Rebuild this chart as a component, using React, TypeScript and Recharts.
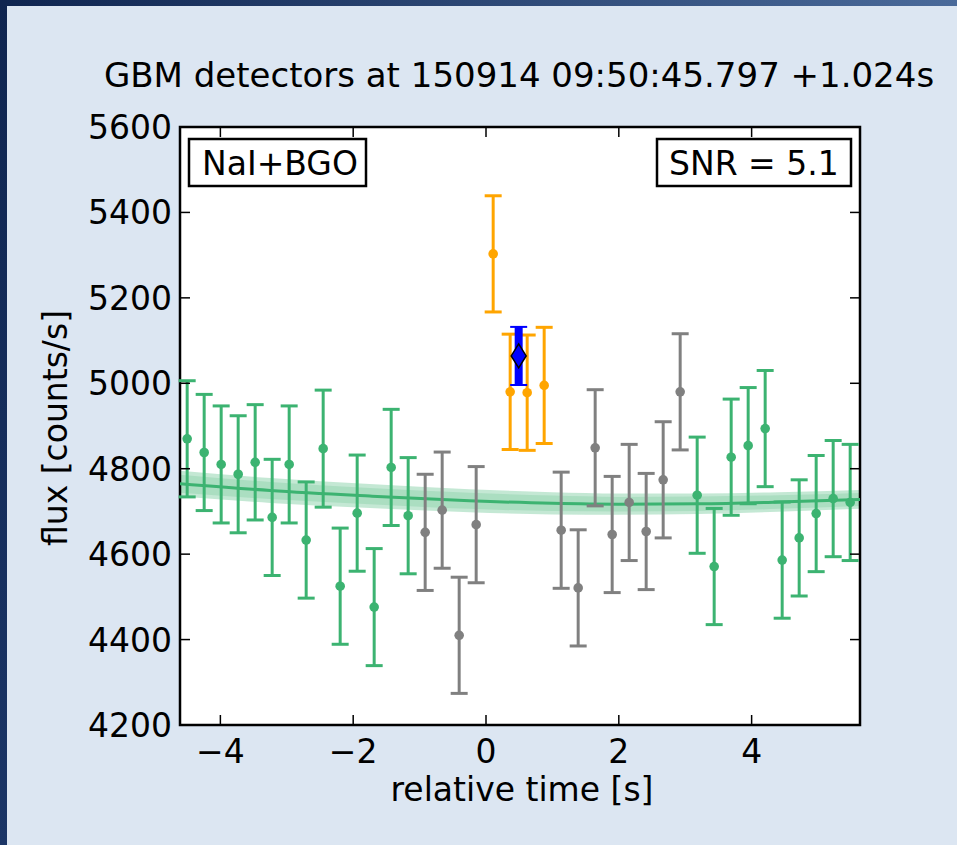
import {
  ComposedChart,
  XAxis,
  YAxis,
  Scatter,
  ErrorBar,
  Line,
  Area,
  CartesianGrid,
  ReferenceArea,
} from "recharts";

// 0.256 s bins, relative to trigger
const times = [
  -4.5, -4.244, -3.988, -3.732, -3.476, -3.22, -2.964, -2.708, -2.452, -2.196,
  -1.94, -1.684, -1.428, -1.172, -0.916, -0.66, -0.404, -0.148, 0.108, 0.364,
  0.62, 0.876, 1.132, 1.388, 1.644, 1.9, 2.156, 2.412, 2.668, 2.924,
  3.18, 3.436, 3.692, 3.948, 4.204, 4.46, 4.716, 4.972, 5.228, 5.484,
];
const flux = [
  4870, 4838, 4810, 4787, 4815, 4686, 4810, 4633, 4847, 4525,
  4696, 4476, 4803, 4690, 4651, 4703, 4410, 4669, 5303, 4980,
  4978, 4995, 4656, 4521, 4849, 4646, 4721, 4653, 4774, 4980,
  4738, 4571, 4827, 4854, 4894, 4586, 4638, 4695, 4730, 4721,
];
const fluxErr = [
  136, 136, 137, 137, 135, 136, 137, 136, 137, 136,
  136, 137, 136, 136, 136, 136, 136, 136, 136, 135,
  135, 136, 136, 136, 136, 136, 136, 136, 136, 136,
  136, 136, 136, 136, 136, 136, 136, 136, 136, 136,
];
// bg = background fit bins, off = excluded, src = source window
const binKind = [
  "bg", "bg", "bg", "bg", "bg", "bg", "bg", "bg", "bg", "bg",
  "bg", "bg", "bg", "bg", "off", "off", "off", "off", "src", "src",
  "src", "src", "off", "off", "off", "off", "off", "off", "off", "off",
  "bg", "bg", "bg", "bg", "bg", "bg", "bg", "bg", "bg", "bg",
];

const stackTime = [0.492];
const stackFlux = [5064];
const stackErr = [68];

const fitTimes = [-4.608, -3.25, -1.75, -0.25, 1.0, 2.0, 3.2, 4.4, 5.632];
const fitFlux = [4765, 4749, 4736, 4725, 4719, 4717, 4718, 4722, 4728];
const fitOuter = [30, 29, 28, 27, 26, 25, 24, 23, 22];
const fitInner = [21, 20, 19, 19, 18, 17, 17, 16, 15];

const xTicks = [-4, -2, 0, 2, 4];
const yTicks = [4200, 4400, 4600, 4800, 5000, 5200, 5400, 5600];

const GREEN = "#3cb371";
const GRAY = "#808080";
const ORANGE = "#ffa500";
const BLUE = "#0000ff";
const FONT = "DejaVu Sans";

const W = 957;
const H = 845;
const MARGIN = { top: 127, right: 97, bottom: 60, left: 80 };
const Y_AXIS_W = 100;
const X_AXIS_H = 60;
const PLOT_W = W - MARGIN.left - Y_AXIS_W - MARGIN.right;
const PLOT_H = H - MARGIN.top - MARGIN.bottom - X_AXIS_H;

const rows = times.map((t, i) => ({ t, v: flux[i], e: fluxErr[i], kind: binKind[i] }));
const bgRows = rows.filter((r) => r.kind === "bg");
const offRows = rows.filter((r) => r.kind === "off");
const srcRows = rows.filter((r) => r.kind === "src");
const stackRows = stackTime.map((t, i) => ({ t, v: stackFlux[i], e: stackErr[i] }));
const fitRows = fitTimes.map((t, i) => ({
  t,
  fit: fitFlux[i],
  outer: [fitFlux[i] - fitOuter[i], fitFlux[i] + fitOuter[i]],
  inner: [fitFlux[i] - fitInner[i], fitFlux[i] + fitInner[i]],
}));

function XTick({ x, y, payload }: any) {
  const label = String(payload.value).replace("-", "\u2212");
  return (
    <g>
      <line x1={x} x2={x} y1={y} y2={y - 10} stroke="#000" strokeWidth={1.5} />
      <line x1={x} x2={x} y1={y - PLOT_H} y2={y - PLOT_H + 10} stroke="#000" strokeWidth={1.5} />
      <text x={x} y={y + 38} textAnchor="middle" fontFamily={FONT} fontSize={33} fill="#000">
        {label}
      </text>
    </g>
  );
}

function YTick({ x, y, payload }: any) {
  return (
    <g>
      <line x1={x} x2={x + 10} y1={y} y2={y} stroke="#000" strokeWidth={1.5} />
      <line x1={x + PLOT_W} x2={x + PLOT_W - 10} y1={y} y2={y} stroke="#000" strokeWidth={1.5} />
      <text x={x - 8} y={y + 12} textAnchor="end" fontFamily={FONT} fontSize={33} fill="#000">
        {payload.value}
      </text>
    </g>
  );
}

function Dot({ cx, cy, fill }: any) {
  return <circle cx={cx} cy={cy} r={4.8} fill={fill} />;
}

function Diamond({ cx, cy }: any) {
  return (
    <polygon
      points={`${cx},${cy - 12} ${cx + 7.5},${cy} ${cx},${cy + 12} ${cx - 7.5},${cy}`}
      fill={BLUE}
      stroke="#000"
      strokeWidth={1.5}
    />
  );
}

export default function App() {
  return (
    <div
      style={{
        position: "absolute",
        top: 0,
        left: 0,
        width: W,
        height: H,
        background: "#dce6f2",
        fontFamily: FONT,
        overflow: "hidden",
      }}
    >
      <div style={{ position: "absolute", top: 0, left: 0, width: W, height: 6, background: "linear-gradient(to right, #0f2550, #4a6a9a)" }} />
      <div style={{ position: "absolute", top: 0, left: 0, width: 7, height: H, background: "linear-gradient(to bottom, #0f2550, #1b3566)" }} />

      <ComposedChart width={W} height={H} margin={MARGIN} style={{ position: "absolute", top: 0, left: 0 }}>
        <CartesianGrid horizontal={false} vertical={false} fill="#ffffff" fillOpacity={1} />
        <XAxis
          dataKey="t"
          type="number"
          domain={[-4.608, 5.632]}
          allowDataOverflow
          ticks={xTicks}
          interval={0}
          height={X_AXIS_H}
          axisLine={false}
          tickLine={false}
          tickSize={0}
          tickMargin={0}
          tick={<XTick />}
        />
        <YAxis
          type="number"
          domain={[4200, 5600]}
          allowDataOverflow
          ticks={yTicks}
          interval={0}
          width={Y_AXIS_W}
          axisLine={false}
          tickLine={false}
          tickSize={0}
          tickMargin={0}
          tick={<YTick />}
        />
        <Area
          data={fitRows}
          dataKey="outer"
          type="monotone"
          stroke="none"
          fill={GREEN}
          fillOpacity={0.3}
          isAnimationActive={false}
        />
        <Area
          data={fitRows}
          dataKey="inner"
          type="monotone"
          stroke="none"
          fill={GREEN}
          fillOpacity={0.18}
          isAnimationActive={false}
        />
        <Line
          data={fitRows}
          dataKey="fit"
          type="monotone"
          stroke={GREEN}
          strokeWidth={3}
          dot={false}
          isAnimationActive={false}
        />
        <Scatter data={offRows} dataKey="v" fill={GRAY} shape={<Dot />} isAnimationActive={false}>
          <ErrorBar dataKey="e" direction="y" width={8.5} stroke={GRAY} strokeWidth={3} />
        </Scatter>
        <Scatter data={bgRows} dataKey="v" fill={GREEN} shape={<Dot />} isAnimationActive={false}>
          <ErrorBar dataKey="e" direction="y" width={8.5} stroke={GREEN} strokeWidth={3} />
        </Scatter>
        <Scatter data={srcRows} dataKey="v" fill={ORANGE} shape={<Dot />} isAnimationActive={false}>
          <ErrorBar dataKey="e" direction="y" width={8.5} stroke={ORANGE} strokeWidth={3} />
        </Scatter>
        <Scatter data={stackRows} dataKey="v" fill={BLUE} shape={<Diamond />} isAnimationActive={false}>
          <ErrorBar dataKey="e" direction="y" width={0} stroke={BLUE} strokeWidth={8} />
          <ErrorBar dataKey="e" direction="y" width={8.5} stroke={BLUE} strokeWidth={2} />
        </Scatter>
        <ReferenceArea
          x1={-4.608}
          x2={5.632}
          y1={4200}
          y2={5600}
          fill="none"
          stroke="#000"
          strokeWidth={2.5}
        />
      </ComposedChart>

      <svg width={W} height={H} style={{ position: "absolute", top: 0, left: 0, pointerEvents: "none" }}>
        <text x={519} y={87} textAnchor="middle" fontFamily={FONT} fontSize={34} fill="#000">
          GBM detectors at 150914 09:50:45.797 +1.024s
        </text>
        <rect x={189} y={139} width={177} height={47} fill="#fff" stroke="#000" strokeWidth={2.5} />
        <text x={202} y={175} fontFamily={FONT} fontSize={33} fill="#000">NaI+BGO</text>
        <rect x={657} y={139} width={194} height={47} fill="#fff" stroke="#000" strokeWidth={2.5} />
        <text x={669} y={175} fontFamily={FONT} fontSize={33} fill="#000">SNR = 5.1</text>
        <text x={522} y={801} textAnchor="middle" fontFamily={FONT} fontSize={33} fill="#000">
          relative time [s]
        </text>
        <text
          x={0}
          y={0}
          transform="translate(67 428) rotate(-90)"
          textAnchor="middle"
          fontFamily={FONT}
          fontSize={33}
          fill="#000"
        >
          flux [counts/s]
        </text>
      </svg>
    </div>
  );
}
